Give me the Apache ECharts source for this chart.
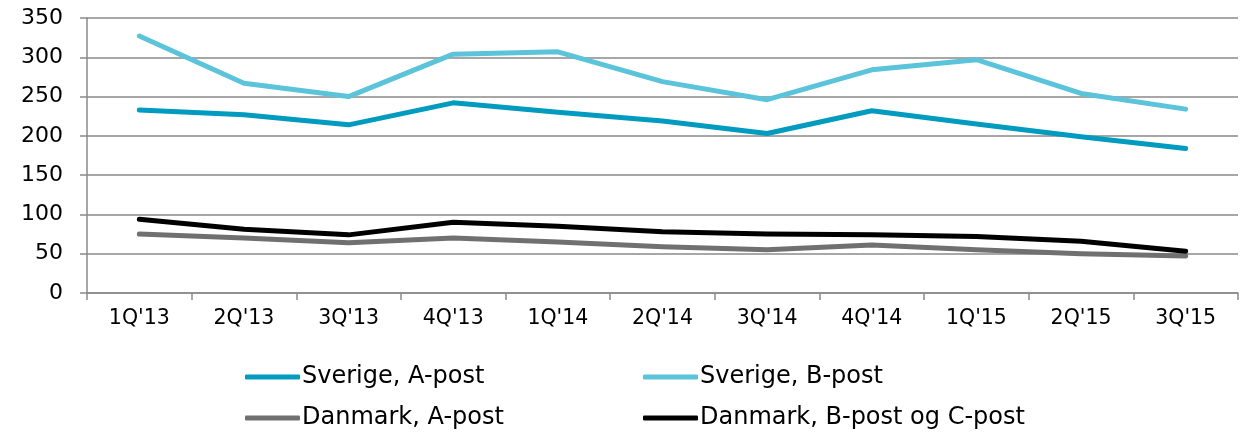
<!DOCTYPE html>
<html>
<head>
<meta charset="utf-8">
<script src="https://cdn.jsdelivr.net/npm/echarts@6/dist/echarts.min.js"></script>
<style>
html,body{margin:0;padding:0;background:#fff;}
#chart{width:1245px;height:432px;}
</style>
</head>
<body>
<div id="chart"></div>
<script>
var categories = ["1Q'13","2Q'13","3Q'13","4Q'13","1Q'14","2Q'14","3Q'14","4Q'14","1Q'15","2Q'15","3Q'15"];
var sverigeA = [233, 227, 214, 242, 230, 219, 203, 232, 215, 199, 184];
var sverigeB = [327, 267, 250, 304, 307, 269, 246, 284, 297, 254, 234];
var danmarkA = [75, 70, 64, 70, 65, 59, 55, 61, 55, 50, 47];
var danmarkB = [94, 81, 74, 90, 85, 78, 75, 74, 72, 66, 53];
var seriesNames = ["Sverige, A-post", "Sverige, B-post", "Danmark, A-post", "Danmark, B-post og C-post"];
var seriesColors = ["#009bbf", "#5bc4da", "#707070", "#000000"];
var seriesData = [sverigeA, sverigeB, danmarkA, danmarkB];

var font = "'DejaVu Sans', Verdana, sans-serif";
var chart = echarts.init(document.getElementById('chart'), null, {renderer: 'canvas'});

var legendPos = [[245, 365], [643, 365], [245, 406], [643, 406]];
var legends = seriesNames.map(function (n, i) {
  return {
    data: [n],
    left: legendPos[i][0],
    top: legendPos[i][1],
    icon: 'roundRect',
    itemWidth: 55,
    itemHeight: 5,
    itemGap: 0,
    padding: 0,
    selectedMode: false,
    textStyle: {fontFamily: font, fontSize: 24, color: '#000', padding: [0, 0, 0, -3]}
  };
});

var option = {
  animation: false,
  backgroundColor: '#fff',
  color: seriesColors,
  grid: {left: 87, right: 7, top: 18, bottom: 139, containLabel: false},
  legend: legends,
  xAxis: {
    type: 'category',
    data: categories,
    boundaryGap: true,
    axisLine: {lineStyle: {color: '#8a8a8a', width: 1.5}},
    axisTick: {show: true, length: 7, lineStyle: {color: '#8a8a8a', width: 1.5}},
    axisLabel: {fontFamily: font, fontSize: 20.5, color: '#000', margin: 15}
  },
  yAxis: {
    type: 'value',
    min: 0,
    max: 350,
    interval: 50,
    axisLine: {show: true, lineStyle: {color: '#8a8a8a', width: 1.5}},
    axisTick: {show: true, length: 7, lineStyle: {color: '#8a8a8a', width: 1.5}},
    axisLabel: {fontFamily: font, fontSize: 22, color: '#000', margin: 24},
    splitLine: {show: true, lineStyle: {color: '#8a8a8a', width: 1.5}}
  },
  series: seriesNames.map(function (n, i) {
    return {
      name: n,
      type: 'line',
      data: seriesData[i],
      showSymbol: false,
      symbol: 'none',
      lineStyle: {width: 5, color: seriesColors[i], cap: 'round', join: 'round'},
      itemStyle: {color: seriesColors[i]},
      z: 2
    };
  })
};
chart.setOption(option);
</script>
</body>
</html>
